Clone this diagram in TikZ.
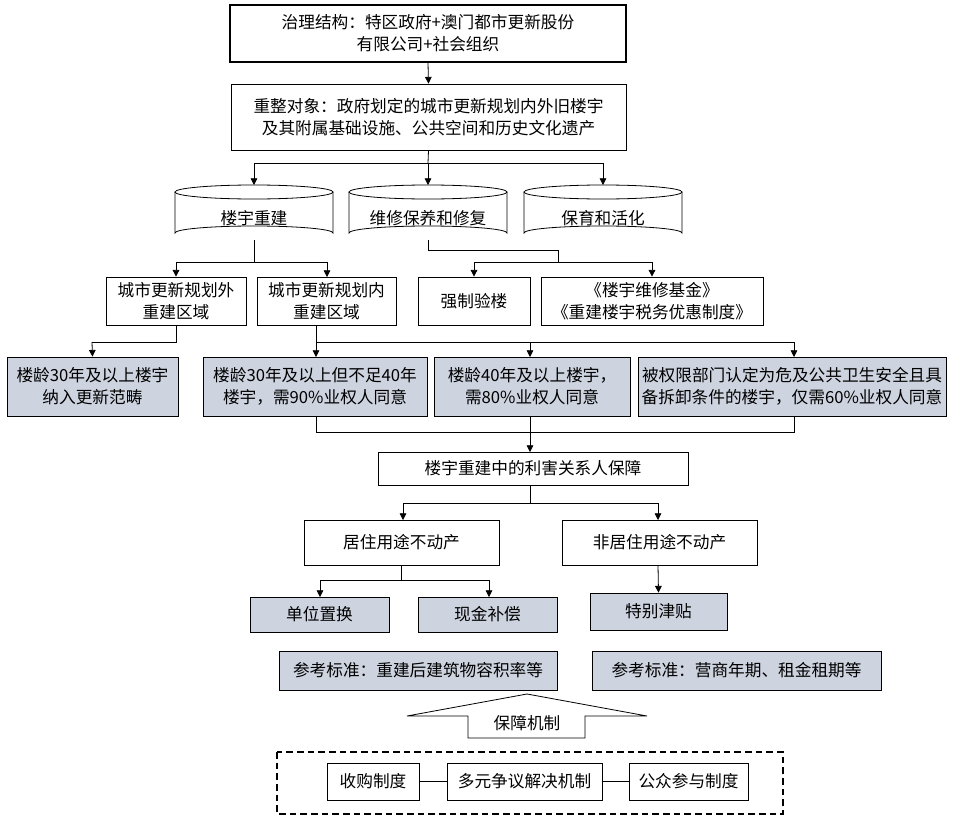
\documentclass[tikz,border=0pt]{standalone}
\usepackage{fontspec}
\setmainfont{Noto Sans CJK SC}
\usetikzlibrary{arrows.meta}
\definecolor{gfill}{HTML}{CDD3DF}
\tikzset{
 every picture/.style={line width=0.6pt},
 bx/.style={draw,align=center,font=\fontsize{12.5}{16.5}\selectfont,inner sep=0pt},
 gb/.style={bx,fill=gfill},
 ar/.style={-{Triangle[length=5pt,width=5pt]}},
 ln/.style={}
}
\begin{document}
\begin{tikzpicture}[x=0.75pt,y=-0.75pt]
\useasboundingbox (0,0) rectangle (954,821);
% top
\node[bx,line width=1.4pt,minimum width={396*0.75pt},minimum height={57*0.75pt}] (top) at (428,33.5) {治理结构：特区政府+澳门都市更新股份\\有限公司+社会组织};
\node[bx,minimum width={395*0.75pt},minimum height={66*0.75pt}] (obj) at (428.5,117) {重整对象：政府划定的城市更新规划内外旧楼宇\\及其附属基础设施、公共空间和历史文化遗产};
\draw[ar] (top.south) -- (obj.north);
% cylinders
\foreach \n/\cx/\t in {cA/254/楼宇重建,cB/428/维修保养和修复,cC/603/保育和活化}{
 \draw (\cx-79,192) -- (\cx-79,233) arc[start angle=180,end angle=360,x radius=79,y radius=7] -- (\cx+79,192);
 \draw (\cx,192) ellipse[x radius=79,y radius=7];
 \node[font=\fontsize{12.5}{16.5}\selectfont] (\n) at (\cx,218) {\t};
 \coordinate (\n t) at (\cx,185);
 \coordinate (\n b) at (\cx,240);
}
\draw[ln] (obj.south) -- (428,163);
\draw[ln] (254,163) -- (603,163);
\draw[ar] (254,163) -- (cAt);
\draw[ar] (428,163) -- (cBt);
\draw[ar] (603,163) -- (cCt);
% D boxes
\node[bx,minimum width={140*0.75pt},minimum height={48*0.75pt}] (d1) at (176,301) {城市更新规划外\\重建区域};
\node[bx,minimum width={139*0.75pt},minimum height={48*0.75pt}] (d2) at (326.5,301) {城市更新规划内\\重建区域};
\draw[ln] (cAb) -- (254,262);
\draw[ln] (176,262) -- (327,262);
\draw[ar] (176,262) -- (d1.north);
\draw[ar] (327,262) -- (327,277);
% E boxes
\node[bx,minimum width={112*0.75pt},minimum height={48*0.75pt}] (e1) at (474,301) {强制验楼};
\node[bx,minimum width={222*0.75pt},minimum height={48*0.75pt}] (e2) at (652,301) {《楼宇维修基金》\\《重建楼宇税务优惠制度》};
\draw[ln] (cBb) -- (428,250) -- (558,250) -- (558,262);
\draw[ln] (474,262) -- (652,262);
\draw[ar] (474,262) -- (e1.north);
\draw[ar] (652,262) -- (e2.north);
% F boxes
\node[gb,minimum width={171*0.75pt},minimum height={59*0.75pt}] (f1) at (92.5,386.5) {楼龄30年及以上楼宇\\纳入更新范畴};
\node[gb,minimum width={224*0.75pt},minimum height={59*0.75pt}] (f2) at (315,386.5) {楼龄30年及以上但不足40年\\楼宇，需90\%业权人同意};
\node[gb,minimum width={196*0.75pt},minimum height={59*0.75pt}] (f3) at (532,386.5) {楼龄40年及以上楼宇，\\需80\%业权人同意};
\node[gb,minimum width={308*0.75pt},minimum height={59*0.75pt}] (f4) at (792,386.5) {被权限部门认定为危及公共卫生安全且具\\备拆卸条件的楼宇，仅需60\%业权人同意};
\draw[ln] (d1.south) -- (176,342) -- (92,342);
\draw[ar] (92,342) -- (f1.north);
\draw[ln] (316,325) -- (316,342);
\draw[ln] (316,342) -- (794,342);
\draw[ar] (316,342) -- (316,357);
\draw[ar] (530,342) -- (530,357);
\draw[ar] (794,342) -- (794,357);
% G
\node[bx,minimum width={310*0.75pt},minimum height={33*0.75pt}] (g) at (533,468.5) {楼宇重建中的利害关系人保障};
\draw[ln] (316,416) -- (316,432) -- (794,432) -- (794,416);
\draw[ln] (530,416) -- (530,432);
\draw[ar] (530,432) -- (530,452);
% H
\node[bx,minimum width={195*0.75pt},minimum height={45*0.75pt}] (h1) at (401.5,542.5) {居住用途不动产};
\node[bx,minimum width={195*0.75pt},minimum height={45*0.75pt}] (h2) at (659.5,542.5) {非居住用途不动产};
\draw[ln] (530,485) -- (530,503);
\draw[ln] (403,503) -- (658,503);
\draw[ar] (403,503) -- (403,520);
\draw[ar] (658,503) -- (658,520);
% I
\node[gb,minimum width={139*0.75pt},minimum height={35*0.75pt}] (i1) at (319.5,614.5) {单位置换};
\node[gb,minimum width={139*0.75pt},minimum height={35*0.75pt}] (i2) at (487.5,614.5) {现金补偿};
\node[gb,minimum width={137*0.75pt},minimum height={37*0.75pt}] (j) at (658.5,611.5) {特别津贴};
\draw[ln] (401,565) -- (401,580);
\draw[ln] (320,580) -- (489,580);
\draw[ar] (320,580) -- (320,597);
\draw[ar] (489,580) -- (489,597);
\draw[ar] (658,565) -- (j.north);
% K
\node[gb,minimum width={278*0.75pt},minimum height={39*0.75pt}] (k1) at (418,670.5) {参考标准：重建后建筑物容积率等};
\node[gb,minimum width={289*0.75pt},minimum height={39*0.75pt}] (k2) at (736.5,670.5) {参考标准：营商年期、租金租期等};
% big arrow
\draw (527,694) -- (647,716) -- (585,716) -- (585,738) -- (468,738) -- (468,716) -- (407,716) -- cycle;
\node[font=\fontsize{12.5}{16.5}\selectfont] (bz) at (527,723) {保障机制};
% dashed
\draw[line width=1.1pt,dash pattern=on 5pt off 3pt] (277,752) rectangle (783,814);
\node[bx,minimum width={92*0.75pt},minimum height={37*0.75pt}] (l1) at (373,781.5) {收购制度};
\node[bx,minimum width={155*0.75pt},minimum height={37*0.75pt}] (l2) at (524.5,781.5) {多元争议解决机制};
\node[bx,minimum width={119*0.75pt},minimum height={37*0.75pt}] (l3) at (688.5,781.5) {公众参与制度};
\draw[ln] (l1) -- (l2);
\draw[ln] (l2) -- (l3);
\end{tikzpicture}
\end{document}
